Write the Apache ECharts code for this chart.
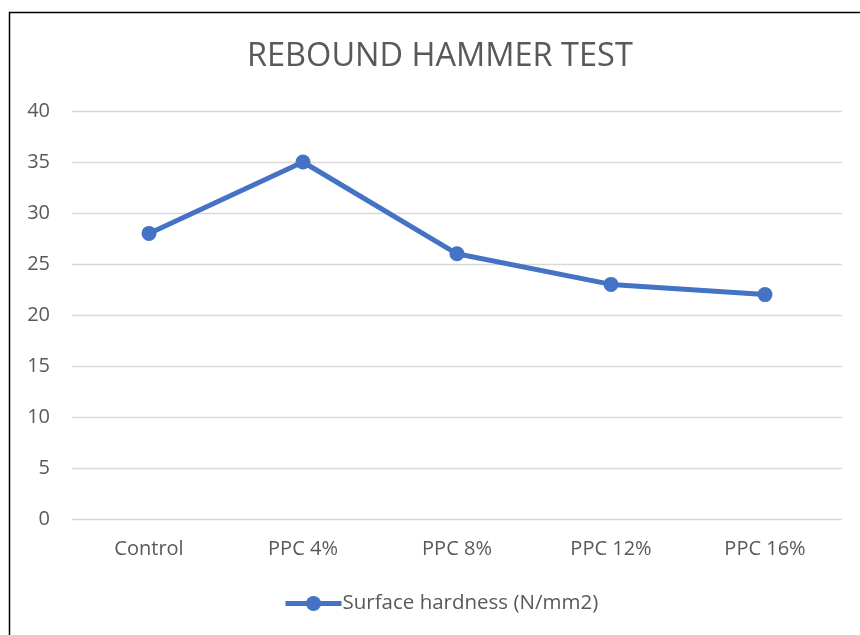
<!DOCTYPE html>
<html><head><meta charset="utf-8">
<script src="https://cdn.jsdelivr.net/npm/echarts@6/dist/echarts.min.js"></script>
<style>html,body{margin:0;padding:0;background:#fff}#c{width:860px;height:635px}</style>
</head><body><div id="c"></div>
<script>
const categories = ['Control', 'PPC 4%', 'PPC 8%', 'PPC 12%', 'PPC 16%'];
const seriesName = 'Surface hardness (N/mm2)';
const values = [28, 35, 26, 23, 22];
const titleText = 'REBOUND HAMMER TEST';

const chart = echarts.init(document.getElementById('c'), null, {renderer: 'canvas'});
const FONT = '"Open Sans", "Noto Sans", sans-serif';
chart.setOption({
  animation: false,
  backgroundColor: '#fff',
  graphic: [{
    type: 'rect', left: 7, top: 10, z: 100,
    shape: {x: 0, y: 0, width: 900, height: 700},
    style: {fill: 'none', stroke: '#000', lineWidth: 1.5}
  }],
  title: {
    text: titleText, left: 242, top: 35,
    textStyle: {fontFamily: FONT, fontSize: 32.5, fontWeight: 'normal', color: '#595959'}
  },
  legend: {
    bottom: 16, left: 278,
    itemWidth: 56, itemHeight: 19, itemGap: 4,
    lineStyle: {width: 5},
    textStyle: {fontFamily: FONT, fontSize: 20.5, color: '#595959', padding: [0,0,0,-4]},
    data: [{name: seriesName}]
  },
  grid: {left: 72, right: 18, top: 111, bottom: 116, containLabel: false},
  xAxis: {
    type: 'category', data: categories, boundaryGap: true,
    axisLine: {show: false}, axisTick: {show: false},
    axisLabel: {fontFamily: FONT, fontSize: 20, color: '#595959', margin: 20}
  },
  yAxis: {
    type: 'value', min: 0, max: 40, interval: 5,
    axisLine: {show: false}, axisTick: {show: false},
    axisLabel: {fontFamily: FONT, fontSize: 20, color: '#595959', margin: 22},
    splitLine: {lineStyle: {color: '#d9d9d9', width: 1.3}}
  },
  series: [{
    name: seriesName, type: 'line', data: values,
    symbol: 'circle', symbolSize: 15,
    lineStyle: {color: '#4472C4', width: 5},
    itemStyle: {color: '#4472C4'}
  }]
});
</script></body></html>
